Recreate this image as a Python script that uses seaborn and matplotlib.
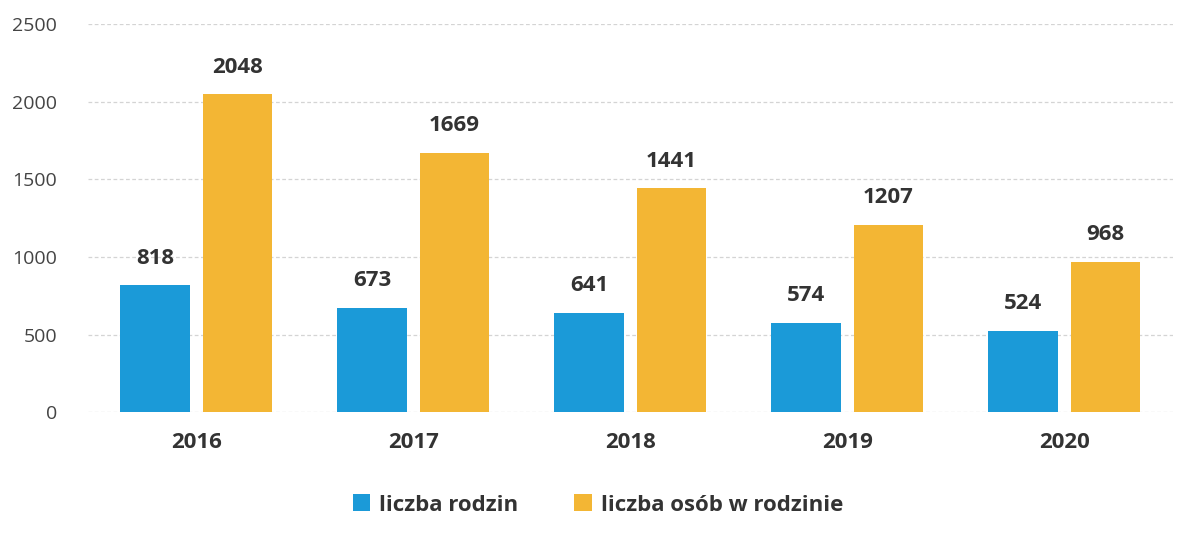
import numpy as np
import pandas as pd
import matplotlib
matplotlib.use('Agg')
import matplotlib.pyplot as plt
import seaborn as sns

# chart data
years = ['2016', '2017', '2018', '2019', '2020']
rodziny = [818, 673, 641, 574, 524]
osoby = [2048, 1669, 1441, 1207, 968]
series = ['liczba rodzin', 'liczba osób w rodzinie']

df = pd.DataFrame({
    'rok': years * 2,
    'wartosc': rodziny + osoby,
    'seria': [series[0]] * len(years) + [series[1]] * len(years),
})

sns.set_style('white')
plt.rcParams['font.family'] = ['Open Sans', 'DejaVu Sans']

fig = plt.figure(figsize=(11.87, 5.46), dpi=100)
ax = fig.add_axes([0.074, 0.245, 0.914, 0.711])

palette = {series[0]: '#1b9ad8', series[1]: '#f3b634'}
sns.barplot(data=df, x='rok', y='wartosc', hue='seria', palette=palette,
            width=0.76, gap=0.16, saturation=1, linewidth=0, ax=ax, legend=True)

# value labels
for cont in ax.containers:
    ax.bar_label(cont, fmt='%d', padding=12, fontsize=16, fontweight='bold', color='#333333')

ax.set_ylim(0, 2500)
ax.set_yticks([0, 500, 1000, 1500, 2000, 2500])
ax.yaxis.grid(True, color='#d4d4d4', linestyle=(0, (3, 2)), linewidth=0.9)
ax.set_axisbelow(True)
ax.tick_params(axis='y', labelsize=14, colors='#444444', length=0, pad=22)
ax.tick_params(axis='x', labelsize=16, colors='#333333', length=0, pad=14)
for lbl in ax.get_xticklabels():
    lbl.set_fontweight('bold')
ax.set_xlabel('')
ax.set_ylabel('')
sns.despine(ax=ax, left=True, bottom=True)

handles, labels = ax.get_legend_handles_labels()
ax.legend(handles, labels, loc='upper center', bbox_to_anchor=(0.47, -0.16),
          ncol=2, frameon=False, handlelength=0.8, handleheight=0.8,
          columnspacing=2.5, handletextpad=0.4, prop={'weight': 'bold', 'size': 16})
for t in ax.get_legend().get_texts():
    t.set_color('#333333')

plt.savefig('out.png', dpi=100)
